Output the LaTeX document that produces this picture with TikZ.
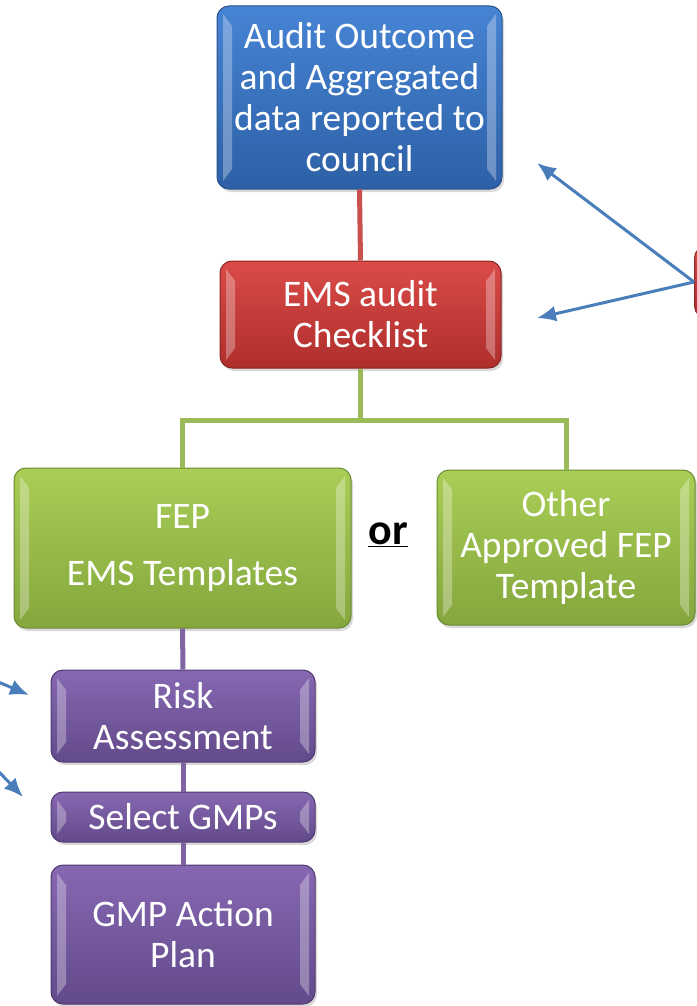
\documentclass[tikz,border=0pt]{standalone}
\usepackage{fontspec}
\setmainfont{Carlito}
\usepackage{xcolor}
\usetikzlibrary{arrows.meta, shadows}

\definecolor{blueTop}{HTML}{4684D4}
\definecolor{blueBot}{HTML}{2D60A6}
\definecolor{blueRim}{HTML}{29538C}
\definecolor{redTop}{HTML}{DA4B48}
\definecolor{redBot}{HTML}{AE2E2C}
\definecolor{redRim}{HTML}{8A2624}
\definecolor{greenTop}{HTML}{A9CE56}
\definecolor{greenBot}{HTML}{84A63D}
\definecolor{greenRim}{HTML}{6C8A32}
\definecolor{purpleTop}{HTML}{8668B2}
\definecolor{purpleBot}{HTML}{634A8A}
\definecolor{purpleRim}{HTML}{4E3A6E}
\definecolor{redLine}{HTML}{C9504D}
\definecolor{greenLine}{HTML}{9BBB59}
\definecolor{purpleLine}{HTML}{8064A2}
\definecolor{arrowBlue}{HTML}{4A7EBB}

\begin{document}
\begin{tikzpicture}[
		x=1pt, y=-1pt,
		every node/.style={text=white, align=center, font=\fontsize{37.5}{41}\selectfont},
		bevel/.style={path picture={
			\fill[white, opacity=0.3, sharp corners] ([shift={(6,8)}]path picture bounding box.north west) -- ([shift={(15,20)}]path picture bounding box.north west) -- ([shift={(15,-20)}]path picture bounding box.south west) -- ([shift={(6,-8)}]path picture bounding box.south west) -- cycle;
			\fill[white, opacity=0.3, sharp corners] ([shift={(-6,8)}]path picture bounding box.north east) -- ([shift={(-15,20)}]path picture bounding box.north east) -- ([shift={(-15,-20)}]path picture bounding box.south east) -- ([shift={(-6,-8)}]path picture bounding box.south east) -- cycle;
		}},
		box/.style={rectangle, rounded corners=12pt, line width=1pt, inner sep=0pt, bevel,
			drop shadow={opacity=0.3, shadow xshift=2pt, shadow yshift=-3pt}},
		bluebox/.style={box, draw=blueRim, top color=blueTop, bottom color=blueBot},
		redbox/.style={box, draw=redRim, top color=redTop, bottom color=redBot},
		greenbox/.style={box, draw=greenRim, top color=greenTop, bottom color=greenBot},
		purplebox/.style={box, draw=purpleRim, top color=purpleTop, bottom color=purpleBot},
		red link/.style={redLine, line width=5pt},
		green link/.style={greenLine, line width=5pt},
		purple link/.style={purpleLine, line width=5pt},
		pointer/.style={arrowBlue, line width=3pt, -{Latex[length=19pt, width=16pt]}}
		]

	\useasboundingbox (0, 0) rectangle (696, 1006);

	\coordinate (bar) at (0, 420);

	% Boxes
	\node[bluebox, minimum width=285pt, minimum height=183pt] (outcome) at (359.5, 97.5)
		{Audit Outcome\\and Aggregated\\data reported to\\council};
	\node[redbox, minimum width=281pt, minimum height=107pt] (checklist) at (360.5, 314.5)
		{EMS audit\\Checklist};
	\node[greenbox, minimum width=337pt, minimum height=160pt] (fep) at (182.5, 548)
		{FEP\\[16pt]EMS Templates};
	\node[greenbox, minimum width=258pt, minimum height=155pt] (other) at (566, 547.5)
		{Other\\Approved FEP\\Template};
	\node[purplebox, minimum width=264pt, minimum height=92pt] (risk) at (183, 716)
		{Risk\\Assessment};
	\node[purplebox, minimum width=264pt, minimum height=50pt] (gmps) at (183, 817)
		{Select GMPs};
	\node[purplebox, minimum width=264pt, minimum height=139pt] (plan) at (183, 934.5)
		{GMP Action\\Plan};

	\node[text=black, font=\fontsize{44}{48}\selectfont\bfseries] (orlabel) at (388, 535) {\underline{or}};

	% Box cut off at the right edge
	\node[redbox, minimum width=60pt, minimum height=72pt, anchor=west] (source) at (694, 282) {};

	% Links
	\draw[red link] (outcome.south) -- (checklist.north);
	\draw[green link] (checklist.south) -- (checklist.south |- bar);
	\draw[green link] (fep.north) -- (fep.north |- bar) -- (other.north |- bar) -- (other.north);
	\draw[purple link] (fep.south) -- (risk.north);
	\draw[purple link] (risk.south) -- (gmps.north);
	\draw[purple link] (gmps.south) -- (plan.north);

	% Pointers
	\coordinate (tipOutcome) at (537, 163);
	\coordinate (tipChecklist) at (537, 318);
	\coordinate (fromA) at (-30, 670);
	\coordinate (tipRisk) at (29, 695);
	\coordinate (fromB) at (-20, 752);
	\coordinate (tipGmps) at (23, 797);
	\draw[pointer] (source.west) -- (tipOutcome);
	\draw[pointer] (source.west) -- (tipChecklist);
	\draw[pointer] (fromA) -- (tipRisk);
	\draw[pointer] (fromB) -- (tipGmps);

\end{tikzpicture}
\end{document}
